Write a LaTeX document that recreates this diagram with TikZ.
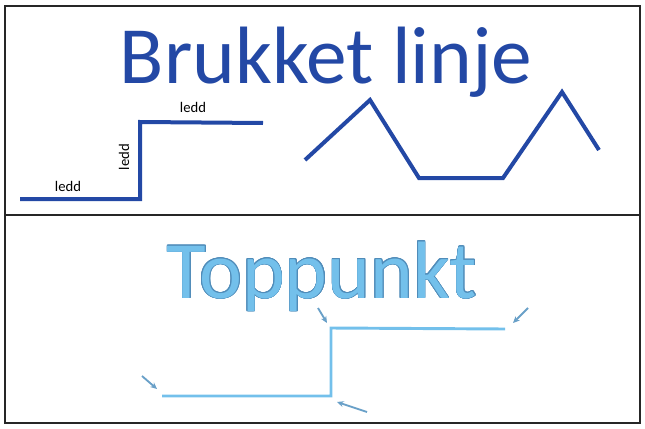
\documentclass[tikz,border=0pt]{standalone}
\usepackage{fontspec}
\setmainfont{Carlito}
\usepackage{contour}
\usetikzlibrary{arrows.meta}
\definecolor{morkbla}{RGB}{35,72,165}
\definecolor{lysebla}{RGB}{115,192,235}
\definecolor{kantbla}{RGB}{80,140,185}
\definecolor{pilbla}{RGB}{105,160,200}
\contourlength{0.5pt}
\tikzset{
	ramme/.style={draw=black!85, line width=2.2pt},
	brukket/.style={draw=morkbla, line width=3pt, line join=miter},
	topp/.style={draw=lysebla, line width=2.2pt, line join=miter},
	peker/.style={draw=pilbla, line width=1.4pt, -{Stealth[length=5pt,width=4.5pt]}},
	ledd/.style={font=\fontsize{11}{11}\selectfont, inner sep=1pt},
	overskrift/.style={anchor=base, inner sep=0pt, text depth=0pt, font=\fontsize{61}{61}\selectfont},
}

\begin{document}
\begin{tikzpicture}[x=0.75pt, y=-0.75pt]
\useasboundingbox (0,0) rectangle (645,428);

% ramme
\draw[ramme] (5,6) rectangle (640,423);
\draw[ramme] (5,215) -- (640,215);

% overskrifter
\node[overskrift, text=morkbla](tittel) at (326,84) {Brukket linje};
\node[overskrift, text=lysebla](toppunkt) at (322,298) {\contour{kantbla}{Toppunkt}};

% trapp oppe
\coordinate(a1) at (20,199);
\coordinate(a2) at (140,199);
\coordinate(a3) at (140,122);
\coordinate(a4) at (263,123);
\draw[brukket] (a1) -- (a2) -- (a3) -- (a4);
\node[ledd](l1) at (68,186) {ledd};
\node[ledd, rotate=90](l2) at (124,157) {ledd};
\node[ledd](l3) at (193,107) {ledd};

% sikksakk
\coordinate(z1) at (305,160);
\coordinate(z2) at (370,100);
\coordinate(z3) at (419,178);
\coordinate(z4) at (503,178);
\coordinate(z5) at (562,92);
\coordinate(z6) at (599,150);
\draw[brukket] (z1) -- (z2) -- (z3) -- (z4) -- (z5) -- (z6);

% trapp nede
\coordinate(b1) at (162,396);
\coordinate(b2) at (331,396);
\coordinate(b3) at (331,328);
\coordinate(b4) at (505,329);
\draw[topp] (b1) -- (b2) -- (b3) -- (b4);

% piler mot toppunktene
\coordinate(p1) at (142,376);
\coordinate(e1) at (157,389);
\coordinate(p2) at (367,412);
\coordinate(e2) at (337,402);
\coordinate(p3) at (318,308);
\coordinate(e3) at (327,323);
\coordinate(p4) at (528,308);
\coordinate(e4) at (513,323);
\draw[peker] (p1) -- (e1);
\draw[peker] (p2) -- (e2);
\draw[peker] (p3) -- (e3);
\draw[peker] (p4) -- (e4);

\end{tikzpicture}
\end{document}
